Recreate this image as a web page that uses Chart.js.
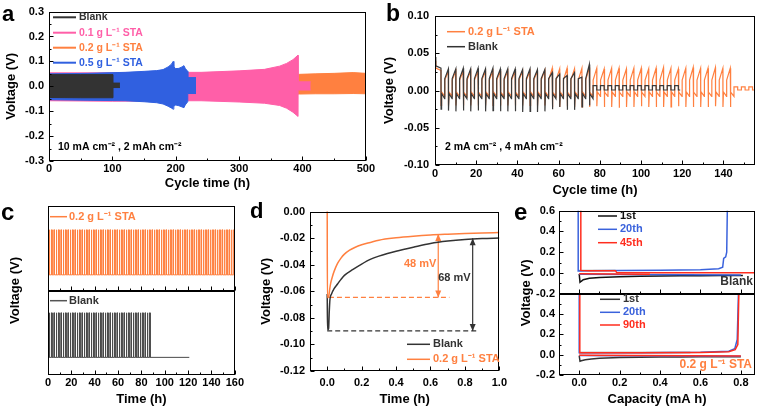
<!DOCTYPE html>
<html><head><meta charset="utf-8">
<script src="https://cdn.jsdelivr.net/npm/chart.js@4.4.1/dist/chart.umd.min.js"></script>
<style>
html,body{margin:0;padding:0;background:#fff;}
body{width:757px;height:407px;position:relative;overflow:hidden;}
canvas{position:absolute;display:block;}
</style></head><body>
<canvas id="cA"></canvas><canvas id="cB"></canvas><canvas id="cC"></canvas><canvas id="cD"></canvas><canvas id="cE"></canvas>
<script>
// ================= DATA =================
// --- Panel a: envelopes (upper / lower) of the dense cycling traces ---
const aXTicks = [0, 100, 200, 300, 400, 500];
const aYTicks = [-0.3, -0.2, -0.1, 0, 0.1, 0.2, 0.3];
const aBlankT  = [0, 50, 101, 101.01, 112];
const aBlankHi = [0.047, 0.047, 0.047, 0.013, 0.013];
const aBlankLo = [-0.045, -0.046, -0.046, -0.005, -0.005];
const aSta05T  = [0, 60, 120, 150, 170, 180, 188, 193, 196, 197, 200, 205, 210, 213, 215, 218.9, 219, 232];
const aSta05Hi = [0.050, 0.052, 0.056, 0.060, 0.063, 0.067, 0.078, 0.088, 0.100, 0.078, 0.071, 0.072, 0.078, 0.083, 0.072, 0.060, 0.035, 0.035];
const aSta05Lo = [-0.054, -0.056, -0.058, -0.062, -0.066, -0.071, -0.080, -0.087, -0.092, -0.080, -0.075, -0.078, -0.083, -0.086, -0.075, -0.062, -0.029, -0.029];
const aSta01T  = [0, 100, 219, 240, 300, 340, 364, 375, 385, 393, 393.1, 413];
const aSta01Hi = [0.054, 0.054, 0.056, 0.056, 0.062, 0.068, 0.081, 0.092, 0.107, 0.125, 0.018, 0.018];
const aSta01Lo = [-0.058, -0.060, -0.058, -0.058, -0.063, -0.068, -0.077, -0.088, -0.104, -0.121, -0.015, -0.015];
const aSta02T  = [0, 395, 420, 450, 480, 500];
const aSta02Hi = [0.048, 0.048, 0.050, 0.052, 0.055, 0.052];
const aSta02Lo = [-0.030, -0.031, -0.030, -0.030, -0.029, -0.030];

// --- Panel b: per-cycle peak times and extreme voltages ---
const bXTicks = [0, 20, 40, 60, 80, 100, 120, 140];
const bYTicks = [-0.10, -0.05, 0, 0.05, 0.10];
const bPeakT = [2.9, 6.5, 10.1, 13.7, 17.3, 20.9, 24.5, 28.1, 31.7, 35.3, 38.9, 42.5, 46.1, 49.7, 53.3, 56.9, 60.5, 64.1, 67.7, 71.3,
                74.9, 78.5, 82.1, 85.7, 89.3, 92.9, 96.5, 100.1, 103.7, 107.3, 110.9, 114.5, 118.1, 121.7, 125.3, 128.9, 132.5, 136.1, 139.7, 143.3];
const bHalf = 1.8;
const bBlankHi = [0.030, 0.029, 0.029, 0.030, 0.029, 0.030, 0.029, 0.030, 0.029, 0.029, 0.029, 0.028, 0.029, 0.028, 0.028, 0.024, 0.022, 0.020, 0.024, 0.018, 0.035];
const bBlankLo = [-0.025, -0.027, -0.028, -0.027, -0.028, -0.027, -0.028, -0.027, -0.028, -0.028, -0.028, -0.029, -0.028, -0.029, -0.028, -0.025, -0.022, -0.026, -0.026, -0.022, -0.020];
const bBlankPlat = [-0.004, -0.011, 0.016];
const bBlankStart = [[0, 0.045], [0.4, 0.033]];
const bBlankSqT = [76.7, 78.5, 80.3, 82.1, 83.9, 85.7, 87.5, 89.3, 91.1, 92.9, 94.7, 96.5, 98.3, 100.1, 101.9, 103.7, 105.5, 107.3, 109.1, 110.9, 112.7, 114.5, 116.3, 118.1, 119];
const bBlankSqV = [0.0065, 0.0007];
const bStaHi = [0.027, 0.026, 0.026, 0.026, 0.026, 0.026, 0.026, 0.026, 0.026, 0.026, 0.026, 0.026, 0.026, 0.026, 0.027, 0.030, 0.029, 0.030, 0.029, 0.030,
                0.031, 0.030, 0.029, 0.030, 0.030, 0.029, 0.030, 0.030, 0.029, 0.030, 0.031, 0.030, 0.029, 0.030, 0.031, 0.030, 0.030, 0.031, 0.030, 0.030];
const bStaLo = [-0.020, -0.020, -0.020, -0.020, -0.020, -0.020, -0.020, -0.020, -0.020, -0.020, -0.020, -0.020, -0.020, -0.020, -0.020, -0.022, -0.022, -0.021, -0.022, -0.022,
                -0.022, -0.021, -0.022, -0.022, -0.023, -0.022, -0.022, -0.021, -0.022, -0.022, -0.022, -0.022, -0.021, -0.022, -0.022, -0.022, -0.022, -0.021, -0.022, -0.022];
const bStaPlat = [-0.002, -0.008, 0.014];
const bStaStart = [[0, 0.040], [0.4, 0.030]];
const bStaSqT = [145.1, 146.9, 148.7, 150.5, 152.3, 154.1, 155.3];
const bStaSqV = [0.0048, 0.0007];

// --- Panel c: pulse times (h) ---
const cXTicks = [0, 20, 40, 60, 80, 100, 120, 140, 160];
const cStaSpikeT = [1,3,5,7,9,11,13,15,17,19,21,23,25,27,29,31,33,35,37,39,41,43,45,47,49,51,53,55,57,59,61,63,65,67,69,71,73,75,77,79,
                    81,83,85,87,89,91,93,95,97,99,101,103,105,107,109,111,113,115,117,119,121,123,125,127,129,131,133,135,137,139,141,143,145,147,149,151,153,155,157,159];
const cBlankSpikeT = [1,3,5,7,9,11,13,15,17,19,21,23,25,27,29,31,33,35,37,39,41,43,45,47,49,51,53,55,57,59,61,63,65,67,69,71,73,75,77,79,81,83,85,87];
const cPulse = 0.5;
const cStaLevels = [0.19, 0.72];
const cBlankLevels = [0.21, 0.74];
const cStaEnd = 160, cBlankEnd = 121;

// --- Panel d ---
const dXTicks = [0, 0.2, 0.4, 0.6, 0.8, 1.0];
const dYTicks = [-0.12, -0.10, -0.08, -0.06, -0.04, -0.02, 0];
const dBlankT = [0, 0.002, 0.008, 0.012, 0.016, 0.025, 0.04, 0.06, 0.08, 0.1, 0.15, 0.2, 0.25, 0.3, 0.35, 0.4, 0.5, 0.6, 0.7, 0.8, 0.9, 1.0];
const dBlankV = [-0.062, -0.089, -0.088, -0.075, -0.066, -0.062, -0.058, -0.0545, -0.051, -0.048, -0.0435, -0.0395, -0.036, -0.0335, -0.0315, -0.0298, -0.0268, -0.0240, -0.0222, -0.0210, -0.0203, -0.0199];
const dStaT = [0, 0.001, 0.006, 0.01, 0.015, 0.02, 0.03, 0.04, 0.06, 0.08, 0.1, 0.13, 0.16, 0.2, 0.25, 0.3, 0.4, 0.5, 0.6, 0.7, 0.8, 0.9, 1.0];
const dStaV = [0.001, -0.0646, -0.0646, -0.063, -0.058, -0.054, -0.049, -0.045, -0.039, -0.035, -0.032, -0.029, -0.027, -0.025, -0.0232, -0.0215, -0.0197, -0.0185, -0.0176, -0.017, -0.0165, -0.0161, -0.0158];
const dStaDashT = [0.01, 0.71], dStaTrough = -0.0646;
const dBlankDashT = [0.0, 0.88], dBlankTrough = -0.0898;
const dStaArrow = [0.645, -0.0646, -0.0168];   // t, bottom, top  (48 mV)
const dBlankArrow = [0.845, -0.0898, -0.0200]; // t, bottom, top  (68 mV)

// --- Panel e ---
const eXTicks = [0, 0.2, 0.4, 0.6, 0.8];
const eYTicks = [-0.2, 0, 0.2, 0.4, 0.6];
// Blank (top)
const eB1X = [0.0, 0.004, 0.01, 0.02, 0.05, 0.1, 0.2, 0.3, 0.4, 0.5, 0.6, 0.7, 0.81];
const eB1Y = [-0.01, -0.09, -0.08, -0.065, -0.05, -0.043, -0.036, -0.032, -0.029, -0.027, -0.026, -0.025, -0.025];
const eB1cX = [0.0, 0.18], eB1cY = [0.025, 0.025];
const eB20X = [-0.005, -0.005, 0.05, 0.2, 0.4, 0.6, 0.69, 0.71, 0.715, 0.725, 0.73, 0.733];
const eB20Y = [0.6, 0.02, 0.022, 0.024, 0.027, 0.032, 0.04, 0.055, 0.14, 0.155, 0.2, 0.6];
const eB20dX = [0.0, 0.8], eB20dY = [-0.012, -0.02];
const eB45X = [0.008, 0.008, 0.05, 0.18, 0.185, 0.4, 0.87];
const eB45Y = [0.6, 0.025, 0.022, 0.022, 0.004, 0.003, 0.003];
const eB45dX = [0.0, 0.35], eB45dY = [-0.008, -0.012];
// 0.2 g/L STA (bottom)
const eS1X = [0.0, 0.004, 0.01, 0.03, 0.06, 0.1, 0.2, 0.3, 0.4, 0.5, 0.6, 0.7, 0.8];
const eS1Y = [-0.01, -0.065, -0.06, -0.05, -0.042, -0.035, -0.028, -0.025, -0.023, -0.022, -0.021, -0.02, -0.02];
const eS1cX = [0.0, 0.55], eS1cY = [0.022, 0.022];
const eS20X = [0.0, 0.0, 0.3, 0.6, 0.74, 0.77, 0.782, 0.788];
const eS20Y = [0.6, 0.02, 0.02, 0.025, 0.035, 0.06, 0.15, 0.6];
const eS20dX = [0.0, 0.8], eS20dY = [-0.008, -0.016];
const eS90X = [0.003, 0.003, 0.3, 0.6, 0.74, 0.772, 0.785, 0.79];
const eS90Y = [0.6, 0.02, 0.018, 0.022, 0.03, 0.05, 0.1, 0.6];
const eS90dX = [0.0, 0.8], eS90dY = [-0.006, -0.014];

// ================= RENDERING =================
const FF = '"Liberation Sans", Arial, Helvetica, sans-serif';
const bold = s => `bold ${s}px ${FF}`;
const xy = (X, Y) => X.map((x, i) => ({x, y: Y[i]}));
const C_BLK = '#333333', C_PINK = '#ff5fa8', C_OR = '#ff8040', C_BLUE = '#3060e0', C_RED = '#ff2d1e', C_EBLUE = '#3a62dc';

function minorVals(v, min, max) {
  const out = [];
  if (v.length < 2) return out;
  for (let i = 0; i < v.length - 1; i++) out.push((v[i] + v[i + 1]) / 2);
  const st = v[1] - v[0];
  const f = v[0] - st / 2, l = v[v.length - 1] + st / 2;
  if (f >= min - 1e-9) out.push(f);
  if (l <= max + 1e-9) out.push(l);
  return out;
}

const DECOR = {};
const decor = {
  id: 'decor',
  afterDraw(chart) {
    const cfg = DECOR[chart.canvas.id]; if (!cfg) return;
    const ctx = chart.ctx, ca = chart.chartArea, xs = chart.scales.x;
    ctx.save();
    const ys = Object.values(chart.scales).filter(s => s.axis === 'y');
    ctx.strokeStyle = '#000'; ctx.lineWidth = 1;
    const L = Math.round(ca.left) + 0.5, R = Math.round(ca.right) - 0.5;
    const xMaj = xs.ticks.map(t => t.value), xMin = minorVals(xMaj, xs.min, xs.max);
    ys.forEach(s => {
      const T = Math.round(s.top) + 0.5, B = Math.round(s.bottom) - 0.5;
      ctx.strokeRect(L, T, R - L, B - T);
      ctx.beginPath();
      const yMaj = s.ticks.map(t => t.value), yMin = minorVals(yMaj, s.min, s.max);
      yMaj.forEach(v => { const p = Math.round(s.getPixelForValue(v)) + 0.5; ctx.moveTo(L, p); ctx.lineTo(L + 4, p); });
      yMin.forEach(v => { const p = Math.round(s.getPixelForValue(v)) + 0.5; ctx.moveTo(L, p); ctx.lineTo(L + 2, p); });
      xMaj.forEach(v => { const p = Math.round(xs.getPixelForValue(v)) + 0.5; ctx.moveTo(p, B); ctx.lineTo(p, B - 4); });
      xMin.forEach(v => { const p = Math.round(xs.getPixelForValue(v)) + 0.5; ctx.moveTo(p, B); ctx.lineTo(p, B - 2); });
      ctx.stroke();
    });
    (cfg.items || []).forEach(it => {
      if (it.type === 'leg') {
        ctx.strokeStyle = it.color; ctx.lineWidth = it.lw || 1.5;
        ctx.beginPath(); ctx.moveTo(it.x0, it.y); ctx.lineTo(it.x1, it.y); ctx.stroke();
        ctx.fillStyle = it.tcolor || it.color; ctx.font = bold(it.size || 11);
        ctx.textAlign = 'left'; ctx.textBaseline = 'middle';
        ctx.fillText(it.text, it.x1 + (it.gap == null ? 3 : it.gap), it.y);
      } else if (it.type === 'text') {
        let x = it.x, y = it.y;
        if (it.data) { x = xs.getPixelForValue(it.x); y = chart.scales[it.yid || 'y'].getPixelForValue(it.y); }
        ctx.fillStyle = it.color; ctx.font = bold(it.size || 11);
        ctx.textAlign = it.align || 'left'; ctx.textBaseline = 'middle';
        ctx.fillText(it.text, x, y);
      } else if (it.type === 'head') {
        const x = xs.getPixelForValue(it.x), y = chart.scales.y.getPixelForValue(it.y);
        const d = it.dir === 'up' ? 1 : -1;
        ctx.fillStyle = it.color; ctx.beginPath();
        ctx.moveTo(x, y); ctx.lineTo(x - 3, y + d * 7); ctx.lineTo(x + 3, y + d * 7); ctx.closePath(); ctx.fill();
      }
    });
    if (cfg.ytitle) {
      ctx.save();
      ctx.translate(cfg.ytitle.x, (ca.top + ca.bottom) / 2);
      ctx.rotate(-Math.PI / 2);
      ctx.fillStyle = '#000'; ctx.font = bold(13); ctx.textAlign = 'center'; ctx.textBaseline = 'middle';
      ctx.fillText(cfg.ytitle.text, 0, 0);
      ctx.restore();
    }
    if (cfg.letter) {
      ctx.fillStyle = '#000'; ctx.font = bold(cfg.letter.size); ctx.textAlign = 'left'; ctx.textBaseline = 'alphabetic';
      ctx.fillText(cfg.letter.t, cfg.letter.x, cfg.letter.y);
    }
    ctx.restore();
  }
};
Chart.register(decor);

function axis(o) {
  const s = {
    type: 'linear', position: o.pos, min: o.min, max: o.max,
    afterBuildTicks: sc => { sc.ticks = o.ticks.map(v => ({value: v})); },
    grid: {display: false, drawTicks: false},
    border: {display: false},
    ticks: {display: o.show !== false, autoSkip: false, maxRotation: 0, minRotation: 0,
            padding: o.lpad == null ? 3 : o.lpad, color: '#000',
            font: {family: FF, size: 11, weight: 'bold'}, callback: o.fmt || (v => '')},
    title: o.title ? {display: true, text: o.title, color: '#000', font: {family: FF, size: 13, weight: 'bold'}, padding: o.tpad} : {display: false}
  };
  if (o.width != null) s.afterFit = sc => { sc.width = o.width; };
  if (o.height != null) s.afterFit = sc => { sc.height = o.height; };
  if (o.stack) { s.stack = o.stack; s.stackWeight = o.weight; }
  return s;
}

function make(id, l, t, w, h, pad, datasets, scales) {
  const c = document.getElementById(id);
  c.width = w; c.height = h;
  c.style.left = l + 'px'; c.style.top = t + 'px'; c.style.width = w + 'px'; c.style.height = h + 'px';
  return new Chart(c, {
    type: 'line',
    data: {datasets},
    options: {
      responsive: false, maintainAspectRatio: false, animation: false, events: [], devicePixelRatio: 1,
      layout: {padding: pad, autoPadding: false},
      plugins: {legend: {display: false}, tooltip: {enabled: false}},
      elements: {point: {radius: 0, hoverRadius: 0}, line: {tension: 0}},
      scales
    }
  });
}
const ln = (data, color, width, extra) => Object.assign({data, borderColor: color, backgroundColor: color, borderWidth: width, fill: false, pointRadius: 0}, extra || {});
const band = (T, Hi, Lo, col) => [ln(xy(T, Hi), col, 1, {fill: '+1'}), ln(xy(T, Lo), col, 1)];
const f1 = v => v.toFixed(1), f2 = v => v.toFixed(2);

// ---------- Panel a ----------
DECOR.cA = {
  letter: {t: 'a', x: 2, y: 21, size: 22},
  items: [
    {type: 'leg', x0: 53, x1: 76, y: 17.3, color: C_BLK, text: 'Blank', lw: 2, size: 10.5},
    {type: 'leg', x0: 53, x1: 76, y: 32.7, color: C_PINK, text: '0.1 g L⁻¹ STA', lw: 2, size: 10.5},
    {type: 'leg', x0: 53, x1: 76, y: 47.7, color: C_OR, text: '0.2 g L⁻¹ STA', lw: 2, size: 10.5},
    {type: 'leg', x0: 53, x1: 76, y: 62.7, color: C_BLUE, text: '0.5 g L⁻¹ STA', lw: 2, size: 10.5},
    {type: 'text', x: 58, y: 146.7, text: '10 mA cm⁻² , 2 mAh cm⁻²', color: '#000', size: 10.5}
  ]
};
make('cA', 0, 0, 376, 197, {left: 0, top: 10, right: 10, bottom: 0},
  [...band(aBlankT, aBlankHi, aBlankLo, C_BLK), ...band(aSta05T, aSta05Hi, aSta05Lo, C_BLUE),
   ...band(aSta01T, aSta01Hi, aSta01Lo, C_PINK), ...band(aSta02T, aSta02Hi, aSta02Lo, C_OR)],
  {
    x: axis({pos: 'bottom', min: 0, max: 500, ticks: aXTicks, fmt: v => String(v), height: 36, lpad: 1, title: 'Cycle time (h)', tpad: {top: 0, bottom: 6}}),
    y: axis({pos: 'left', min: -0.3, max: 0.3, ticks: aYTicks, fmt: f1, width: 49, lpad: 5, title: 'Voltage (V)', tpad: {top: 4, bottom: 0}})
  });

// ---------- Panel b ----------
function cyclePts(peakT, his, los, plat, start, dropLastRise) {
  const pts = start.map(p => ({x: p[0], y: p[1]}));
  for (let k = 0; k < his.length; k++) {
    const T = peakT[k];
    pts.push({x: T, y: his[k]});
    pts.push({x: T + 0.05, y: los[k]});
    pts.push({x: T + 0.3, y: plat[0]});
    pts.push({x: T + bHalf, y: plat[1]});
    if (!(dropLastRise && k === his.length - 1)) pts.push({x: T + bHalf + 0.05, y: plat[2]});
  }
  return pts;
}
function squarePts(T, V) {
  const pts = [];
  for (let j = 0; j < T.length - 1; j++) { const v = V[j % 2]; pts.push({x: T[j], y: v}, {x: T[j + 1], y: v}); }
  return pts;
}
const bBlankPts = cyclePts(bPeakT, bBlankHi, bBlankLo, bBlankPlat, bBlankStart, true).concat(squarePts(bBlankSqT, bBlankSqV));
const bStaPts = cyclePts(bPeakT, bStaHi, bStaLo, bStaPlat, bStaStart, true).concat(squarePts(bStaSqT, bStaSqV));
DECOR.cB = {
  letter: {t: 'b', x: 6, y: 21, size: 23},
  items: [
    {type: 'leg', x0: 67, x1: 85, y: 31.7, color: C_OR, text: '0.2 g L⁻¹ STA', lw: 1.5},
    {type: 'leg', x0: 67, x1: 85, y: 46.7, color: C_BLK, text: 'Blank', lw: 1.5},
    {type: 'text', x: 65, y: 146.7, text: '2 mA cm⁻² , 4 mAh cm⁻²', color: '#000', size: 10.5}
  ]
};
make('cB', 380, 0, 377, 200, {left: 0, top: 16, right: 2, bottom: 0},
  [ln(bBlankPts, '#3a3a3a', 1.2), ln(bStaPts, C_OR, 1.2)],
  {
    x: axis({pos: 'bottom', min: 0, max: 155.3, ticks: bXTicks, fmt: v => String(v), height: 35, lpad: 2, title: 'Cycle time (h)', tpad: {top: 0, bottom: 2}}),
    y: axis({pos: 'left', min: -0.1, max: 0.1, ticks: bYTicks, fmt: f2, width: 55, lpad: 6, title: 'Voltage (V)', tpad: {top: 2, bottom: 0}})
  });

// ---------- Panel c ----------
function pulsePts(T, lev, end) {
  const pts = [{x: 0, y: lev[0]}];
  T.forEach(t => { pts.push({x: t, y: lev[0]}, {x: t, y: lev[1]}, {x: t + cPulse, y: lev[1]}, {x: t + cPulse, y: lev[0]}); });
  pts.push({x: end, y: lev[0]});
  return pts;
}
DECOR.cC = {
  letter: {t: 'c', x: 1, y: 20, size: 24},
  ytitle: {text: 'Voltage (V)', x: 15},
  items: [
    {type: 'leg', x0: 50, x1: 67, y: 16.7, color: C_OR, text: '0.2 g L⁻¹ STA', lw: 1.5, gap: 2},
    {type: 'leg', x0: 50, x1: 67, y: 100.7, color: '#555', tcolor: C_BLK, text: 'Blank', lw: 1.5, gap: 2}
  ]
};
make('cC', 0, 200, 245, 207, {left: 0, top: 6, right: 6, bottom: 0},
  [ln(pulsePts(cStaSpikeT, cStaLevels, cStaEnd), C_OR, 1, {yAxisID: 'yt'}),
   ln(pulsePts(cBlankSpikeT, cBlankLevels, cBlankEnd), '#4a4a4a', 1, {yAxisID: 'yb'})],
  {
    x: axis({pos: 'bottom', min: 0, max: 160, ticks: cXTicks, fmt: v => String(v), height: 32, lpad: 1, title: 'Time (h)', tpad: {top: 0, bottom: 0}}),
    yb: axis({pos: 'left', min: 0, max: 1, ticks: [], show: false, width: 48, stack: 'c', weight: 84}),
    yt: axis({pos: 'left', min: 0, max: 1, ticks: [], show: false, width: 48, stack: 'c', weight: 85})
  });

// ---------- Panel d ----------
DECOR.cD = {
  letter: {t: 'd', x: 0, y: 18, size: 22},
  items: [
    {type: 'leg', x0: 157, x1: 180, y: 144.3, color: C_BLK, text: 'Blank', lw: 1.5},
    {type: 'leg', x0: 157, x1: 180, y: 159.3, color: C_OR, text: '0.2 g L⁻¹ STA', lw: 1.5},
    {type: 'text', data: true, x: 0.54, y: -0.0397, text: '48 mV', color: C_OR, align: 'center'},
    {type: 'text', data: true, x: 0.739, y: -0.050, text: '68 mV', color: C_BLK, align: 'center'},
    {type: 'head', x: dStaArrow[0], y: dStaArrow[1], dir: 'down', color: C_OR},
    {type: 'head', x: dStaArrow[0], y: dStaArrow[2], dir: 'up', color: C_OR},
    {type: 'head', x: dBlankArrow[0], y: dBlankArrow[1], dir: 'down', color: C_BLK},
    {type: 'head', x: dBlankArrow[0], y: dBlankArrow[2], dir: 'up', color: C_BLK}
  ]
};
make('cD', 250, 200, 262, 207, {left: 0, top: 7, right: 7, bottom: 0},
  [ln(xy(dStaT, dStaV), C_OR, 1.5, {cubicInterpolationMode: 'monotone'}),
   ln(xy(dBlankT, dBlankV), C_BLK, 1.5, {cubicInterpolationMode: 'monotone'}),
   ln(xy(dStaDashT, [dStaTrough, dStaTrough]), C_OR, 1.3, {borderDash: [5, 3]}),
   ln(xy(dBlankDashT, [dBlankTrough, dBlankTrough]), C_BLK, 1.3, {borderDash: [5, 3]}),
   ln(xy([dStaArrow[0], dStaArrow[0]], [dStaArrow[1], dStaArrow[2]]), C_OR, 1.2),
   ln(xy([dBlankArrow[0], dBlankArrow[0]], [dBlankArrow[1], dBlankArrow[2]]), C_BLK, 1.2)],
  {
    x: axis({pos: 'bottom', min: -0.1, max: 1.0, ticks: dXTicks, fmt: f1, height: 36, lpad: 5, title: 'Time (h)', tpad: {top: 0, bottom: 0}}),
    y: axis({pos: 'left', min: -0.12, max: 0, ticks: dYTicks, fmt: f2, width: 60, lpad: 5, title: 'Voltage (V)', tpad: {top: 9, bottom: 0}})
  });

// ---------- Panel e ----------
DECOR.cE = {
  letter: {t: 'e', x: 9, y: 20, size: 24},
  ytitle: {text: 'Voltage (V)', x: 21},
  items: [
    {type: 'leg', x0: 93, x1: 112, y: 16, color: '#111', text: '1st', lw: 1.5},
    {type: 'leg', x0: 93, x1: 112, y: 29.3, color: C_EBLUE, text: '20th', lw: 1.5},
    {type: 'leg', x0: 93, x1: 112, y: 42.7, color: C_RED, text: '45th', lw: 1.5},
    {type: 'leg', x0: 95, x1: 115, y: 99.3, color: '#333', text: '1st', lw: 1.5},
    {type: 'leg', x0: 95, x1: 115, y: 112.3, color: C_EBLUE, text: '20th', lw: 1.5},
    {type: 'leg', x0: 95, x1: 115, y: 125, color: C_RED, text: '90th', lw: 1.5},
    {type: 'text', x: 248, y: 81.7, text: 'Blank', color: '#333', align: 'right', size: 12},
    {type: 'text', x: 247, y: 165, text: '0.2 g L⁻¹ STA', color: C_OR, align: 'right', size: 12}
  ]
};
const fe = v => (Math.abs(v - 0.6) < 1e-9 ? '' : f1(v));
make('cE', 505, 200, 252, 207, {left: 0, top: 5, right: 2, bottom: 0},
  [ln(xy(eB45X, eB45Y), C_RED, 1.5, {yAxisID: 'yt'}), ln(xy(eB45dX, eB45dY), C_RED, 1.5, {yAxisID: 'yt'}),
   ln(xy(eB20X, eB20Y), C_EBLUE, 1.5, {yAxisID: 'yt'}), ln(xy(eB20dX, eB20dY), C_EBLUE, 1.5, {yAxisID: 'yt'}),
   ln(xy(eB1X, eB1Y), '#111', 1.5, {yAxisID: 'yt'}), ln(xy(eB1cX, eB1cY), '#999', 1.5, {yAxisID: 'yt'}),
   ln(xy(eS90X, eS90Y), C_RED, 1.5, {yAxisID: 'yb'}), ln(xy(eS90dX, eS90dY), C_RED, 1.5, {yAxisID: 'yb'}),
   ln(xy(eS20X, eS20Y), C_EBLUE, 1.5, {yAxisID: 'yb'}), ln(xy(eS20dX, eS20dY), C_EBLUE, 1.5, {yAxisID: 'yb'}),
   ln(xy(eS1X, eS1Y), '#333', 1.5, {yAxisID: 'yb'}), ln(xy(eS1cX, eS1cY), '#888', 1.5, {yAxisID: 'yb'})],
  {
    x: axis({pos: 'bottom', min: -0.1, max: 0.87, ticks: eXTicks, fmt: f1, height: 32, lpad: 1, title: 'Capacity (mA h)', tpad: {top: 0, bottom: 0}}),
    yb: axis({pos: 'left', min: -0.2, max: 0.6, ticks: eYTicks, fmt: fe, width: 54, lpad: 4, stack: 'e', weight: 84}),
    yt: axis({pos: 'left', min: -0.2, max: 0.6, ticks: eYTicks, fmt: f1, width: 54, lpad: 4, stack: 'e', weight: 86})
  });
</script>
</body></html>
